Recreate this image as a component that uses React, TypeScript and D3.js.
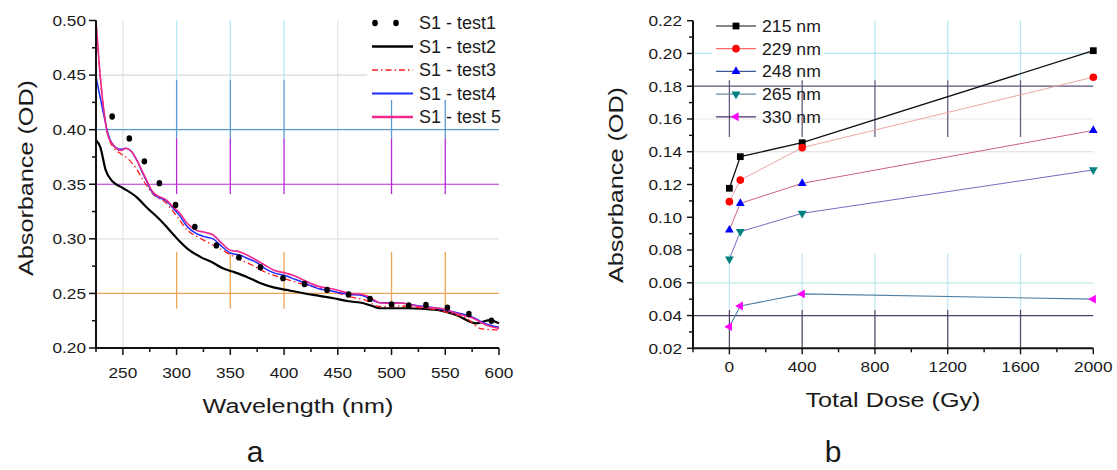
import React from 'react';
import * as d3 from 'd3';

const FONT = "'Liberation Sans', Arial, Helvetica, sans-serif";

// ---- panel a : spectra (wavelength nm, absorbance OD)
const test1 = [
  [240, 0.412], [256, 0.392], [270, 0.371], [284, 0.351], [299, 0.331], [317, 0.311],
  [337, 0.294], [358, 0.283], [378, 0.274], [399, 0.264], [419, 0.2586], [440, 0.2532],
  [460, 0.249], [480, 0.245], [500, 0.240], [516, 0.239], [532, 0.2394], [552, 0.237],
  [572, 0.2312], [593, 0.225],
];
const test2 = [
  [225, 0.3905], [229, 0.384], [234, 0.363], [241, 0.352], [250, 0.3466], [263, 0.338],
  [272, 0.329], [285, 0.317], [297, 0.304], [303, 0.2975], [310, 0.291], [322, 0.2835],
  [334, 0.278], [343, 0.273], [352, 0.27], [365, 0.2653], [377, 0.2598], [390, 0.2555],
  [402, 0.2532], [427, 0.2486], [446, 0.2456], [460, 0.2428], [474, 0.241], [482, 0.2385],
  [489, 0.2364], [514, 0.2364], [542, 0.235], [560, 0.2303], [579, 0.2226], [591, 0.2256],
  [600, 0.2226],
];
const test3 = [
  [225, 0.5], [228, 0.46], [232, 0.42], [236, 0.395], [241, 0.384], [248, 0.378],
  [254, 0.374], [262, 0.365], [270, 0.352], [278, 0.341], [290, 0.333], [300, 0.321],
  [310, 0.308], [322, 0.3005], [337, 0.2928], [356, 0.2822], [370, 0.276], [381, 0.2702],
  [399, 0.2639], [412, 0.26], [427, 0.2562], [446, 0.2516], [461, 0.247], [475, 0.244],
  [489, 0.238], [508, 0.2385], [525, 0.237], [542, 0.235], [558, 0.231], [570, 0.2272],
  [582, 0.218], [590, 0.217], [600, 0.2165],
];
const test4 = [
  [225, 0.4485], [229, 0.429], [233, 0.41], [236, 0.397], [241, 0.386], [248, 0.382],
  [253, 0.383], [258, 0.38], [263, 0.372], [268, 0.361], [272, 0.353], [277, 0.343],
  [283, 0.338], [290, 0.335], [296, 0.329], [303, 0.321], [310, 0.311], [318, 0.305],
  [326, 0.302], [334, 0.3], [342, 0.293], [350, 0.287], [359, 0.285], [366, 0.282],
  [375, 0.278], [382, 0.273], [390, 0.269], [402, 0.266], [410, 0.263], [418, 0.26],
  [425, 0.257], [433, 0.254], [441, 0.253], [449, 0.251], [461, 0.249], [470, 0.2485],
  [476, 0.247], [482, 0.244], [489, 0.2415], [500, 0.2415], [511, 0.241], [523, 0.239],
  [535, 0.2375], [545, 0.236], [560, 0.2325], [576, 0.228], [588, 0.222], [600, 0.219],
];
const test5 = [
  [225, 0.5], [228, 0.46], [232, 0.42], [236, 0.395], [241, 0.386], [248, 0.381],
  [253, 0.383], [258, 0.38], [263, 0.372], [268, 0.362], [272, 0.354], [277, 0.344],
  [283, 0.339], [290, 0.336], [296, 0.33], [303, 0.3234], [310, 0.314], [318, 0.308],
  [326, 0.306], [334, 0.3035], [342, 0.296], [350, 0.2895], [359, 0.288], [366, 0.285],
  [374, 0.2806], [382, 0.276], [390, 0.2715], [402, 0.2685], [410, 0.266], [418, 0.2623],
  [425, 0.259], [433, 0.2562], [441, 0.255], [449, 0.2532], [461, 0.25], [470, 0.2495],
  [476, 0.248], [482, 0.245], [489, 0.2415], [500, 0.241], [511, 0.241], [523, 0.2385],
  [535, 0.237], [545, 0.2364], [560, 0.2318], [576, 0.2272], [588, 0.2211], [600, 0.218],
];
const spectraLabels = ['S1 - test1', 'S1 - test2', 'S1 - test3', 'S1 - test4', 'S1 - test 5'];

// ---- panel b : absorbance vs total dose
const doses = [0, 60, 400, 2000];
const abs215 = [0.1177, 0.137, 0.1455, 0.2017];
const abs229 = [0.1095, 0.1227, 0.1425, 0.1855];
const abs248 = [0.0922, 0.1085, 0.1207, 0.153];
const abs265 = [0.0745, 0.0912, 0.1024, 0.1289];
const abs330 = [0.0332, 0.0458, 0.0532, 0.050];
const doseLabels = ['215 nm', '229 nm', '248 nm', '265 nm', '330 nm'];

function T({ x, y, children, size = 15, anchor = 'middle', sx = 1, rotate = 0, dy = '0', fill = '#1a1a1a' }: any) {
  return (
    <text
      transform={`translate(${x},${y}) rotate(${rotate}) scale(${sx},1)`}
      fontSize={size}
      textAnchor={anchor}
      dy={dy}
      fill={fill}
      fontFamily={FONT}
    >
      {children}
    </text>
  );
}

function PanelA() {
  const x = d3.scaleLinear().domain([225, 600]).range([96, 499]);
  const y = d3.scaleLinear().domain([0.2, 0.5]).range([348, 20.5]);
  const line = d3.line<number[]>().x((d) => x(d[0])).y((d) => y(d[1])).curve(d3.curveMonotoneX);

  // 25 nm minor / 50 nm major, 0.025 minor / 0.05 major
  const xTicks = d3.range(225, 601, 25);
  const yTicks = d3.range(0, 13).map((i) => 0.2 + i * 0.025);

  // odd coloured grid of the original figure
  const hGrid = [
    { v: 0.45, c: '#d9d9d9' },
    { v: 0.40, c: '#5b9bd5' },
    { v: 0.35, c: '#b52ad6' },
    { v: 0.30, c: '#e2e2e2' },
    { v: 0.25, c: '#eea456' },
  ];
  const vBands = [
    { from: 0.5, to: 0.4455, c: '#b7e6f7' },
    { from: 0.4455, to: 0.392, c: '#5b9bd5' },
    { from: 0.392, to: 0.341, c: '#b52ad6' },
    { from: 0.288, to: 0.236, c: '#eea456' },
  ];
  const bandX = [300, 350, 400, 500, 550];

  const series = [
    { d: test2, c: '#000', w: 2.2, dash: undefined },
    { d: test3, c: '#ff1a1a', w: 1.3, dash: '6 3 1.5 3' },
    { d: test4, c: '#1f2bff', w: 1.5, dash: undefined },
    { d: test5, c: '#f0288c', w: 1.6, dash: undefined },
  ];

  return (
    <g>
      {[250, 450].map((v) => (
        <line key={v} x1={x(v)} x2={x(v)} y1={y(0.5)} y2={y(0.2)} stroke="#e4e4e4" strokeWidth={1.3} />
      ))}
      {hGrid.map((g) => (
        <line key={g.v} x1={x(225)} x2={x(600)} y1={y(g.v)} y2={y(g.v)} stroke={g.c} strokeWidth={1.2} />
      ))}
      {bandX.map((v) =>
        vBands.map((b, i) => (
          <line key={v + '-' + i} x1={x(v)} x2={x(v)} y1={y(b.from)} y2={y(b.to)} stroke={b.c} strokeWidth={1.3} />
        ))
      )}
      <rect x={367} y={10} width={135} height={90} fill="#fff" />

      {series.map((s, i) => (
        <path key={i} d={line(s.d) || ''} fill="none" stroke={s.c} strokeWidth={s.w} strokeDasharray={s.dash} />
      ))}
      {test1.map((d, i) => (
        <ellipse key={i} cx={x(d[0])} cy={y(d[1])} rx={2.8} ry={3.2} fill="#000" />
      ))}

      {/* axes */}
      <line x1={x(225)} x2={x(225)} y1={y(0.5)} y2={y(0.2) + 1} stroke="#111" strokeWidth={2} />
      <line x1={x(225) - 1} x2={x(600)} y1={y(0.2)} y2={y(0.2)} stroke="#111" strokeWidth={2} />
      {yTicks.map((v, i) => {
        const major = i % 2 === 0;
        return (
          <g key={i}>
            <line x1={x(225) - (major ? 7 : 4)} x2={x(225)} y1={y(v)} y2={y(v)} stroke="#111" strokeWidth={1.5} />
            {major && (
              <T x={86} y={y(v)} dy="0.36em" anchor="end" sx={1.15}>
                {d3.format('.2f')(v)}
              </T>
            )}
          </g>
        );
      })}
      {xTicks.map((v) => {
        const major = v % 50 === 0;
        return (
          <g key={v}>
            <line x1={x(v)} x2={x(v)} y1={y(0.2)} y2={y(0.2) + (major ? 7 : 4)} stroke="#111" strokeWidth={1.5} />
            {major && (
              <T x={x(v)} y={378} sx={1.15}>
                {v}
              </T>
            )}
          </g>
        );
      })}
      <T x={298} y={413} size={21} sx={1.2}>Wavelength (nm)</T>
      <T x={33} y={178} size={21} sx={1.2} rotate={-90}>Absorbance (OD)</T>
      <T x={255} y={462} size={30}>a</T>

      {/* legend */}
      {spectraLabels.map((lab, i) => {
        const ly = 23 + i * 23.5;
        const s = series[i - 1];
        return (
          <g key={lab}>
            {i === 0 ? (
              <>
                <ellipse cx={375} cy={ly} rx={2.8} ry={3.2} fill="#000" />
                <ellipse cx={396} cy={ly} rx={2.8} ry={3.2} fill="#000" />
              </>
            ) : (
              <line x1={372} x2={413} y1={ly} y2={ly} stroke={s.c} strokeWidth={i === 4 ? 2.4 : s.w + 0.3} strokeDasharray={s.dash} />
            )}
            <T x={419} y={ly} dy="0.36em" anchor="start" size={18}>
              {lab}
            </T>
          </g>
        );
      })}
    </g>
  );
}

function PanelB() {
  const x = d3.scaleLinear().domain([-200, 2000]).range([693, 1093.3]);
  const y = d3.scaleLinear().domain([0.02, 0.22]).range([348.3, 20.7]);
  const xTicks = d3.range(-200, 2001, 200);
  const yTicks = d3.range(0, 21).map((i) => 0.02 + i * 0.01);

  const hGrid = [
    { v: 0.2, c: '#b3e3f0' },
    { v: 0.16, c: '#e8e8e8' },
    { v: 0.14, c: '#dcdcdc' },
    { v: 0.06, c: '#c4eaea' },
  ];
  const hGridTop = [
    { v: 0.18, c: '#5d507c' },
    { v: 0.04, c: '#4a4060' },
  ];
  const vBands = [
    { from: 0.22, to: 0.1837, c: '#b6e6f4' },
    { from: 0.1837, to: 0.149, c: '#6a5a80' },
    { from: 0.078, to: 0.0434, c: '#c2e9ee' },
    { from: 0.0434, to: 0.02, c: '#5a4a6a' },
  ];
  const bandX = [0, 400, 800, 1200, 1600];

  const series = [
    { v: abs215, fill: '#000', line: '#111', lw: 1.3, leg: '#111', sym: d3.symbolSquare, size: 46, rot: 0 },
    { v: abs229, fill: '#ff0000', line: '#e9a7a0', lw: 1, leg: '#ff6a6a', sym: d3.symbolCircle, size: 46, rot: 0 },
    { v: abs248, fill: '#0000ff', line: '#c8647a', lw: 1, leg: '#3a5a9a', sym: d3.symbolTriangle, size: 34, rot: 0 },
    { v: abs265, fill: '#008080', line: '#7a6ac0', lw: 1, leg: '#6a8aa0', sym: d3.symbolTriangle, size: 34, rot: 180 },
    { v: abs330, fill: '#ff00ff', line: '#4f7fa5', lw: 1.1, leg: '#4a3070', sym: d3.symbolTriangle, size: 34, rot: -90 },
  ];
  const line = d3.line<number>().x((_, i) => x(doses[i])).y((d) => y(d));

  return (
    <g>
      {hGrid.map((g) => (
        <line key={g.v} x1={x(-200)} x2={x(2000)} y1={y(g.v)} y2={y(g.v)} stroke={g.c} strokeWidth={1.2} />
      ))}
      {bandX.map((v) =>
        vBands.map((b, i) => (
          <line key={v + '-' + i} x1={x(v)} x2={x(v)} y1={y(b.from)} y2={y(b.to)} stroke={b.c} strokeWidth={1.3} />
        ))
      )}
      <rect x={712} y={12} width={112} height={68} fill="#fff" />
      {hGridTop.map((g) => (
        <line key={g.v} x1={x(-200)} x2={x(2000)} y1={y(g.v)} y2={y(g.v)} stroke={g.c} strokeWidth={1.2} />
      ))}

      {series.map((s, i) => (
        <path key={i} d={line(s.v) || ''} fill="none" stroke={s.line} strokeWidth={s.lw} />
      ))}
      {series.map((s, i) =>
        s.v.map((v, j) => (
          <path
            key={i + '-' + j}
            d={d3.symbol().type(s.sym).size(s.size)() || ''}
            transform={`translate(${x(doses[j])},${y(v)}) rotate(${s.rot})`}
            fill={s.fill}
          />
        ))
      )}

      {/* axes */}
      <line x1={x(-200)} x2={x(-200)} y1={y(0.22)} y2={y(0.02) + 1} stroke="#111" strokeWidth={2} />
      <line x1={x(-200) - 1} x2={x(2000)} y1={y(0.02)} y2={y(0.02)} stroke="#111" strokeWidth={2} />
      {yTicks.map((v, i) => {
        const major = i % 2 === 0;
        return (
          <g key={i}>
            <line x1={x(-200) - (major ? 6 : 4)} x2={x(-200)} y1={y(v)} y2={y(v)} stroke="#111" strokeWidth={1.4} />
            {major && (
              <T x={682} y={y(v)} dy="0.36em" anchor="end" sx={1.15}>
                {d3.format('.2f')(v)}
              </T>
            )}
          </g>
        );
      })}
      {xTicks.map((v) => {
        const major = v % 400 === 0;
        return (
          <g key={v}>
            <line x1={x(v)} x2={x(v)} y1={y(0.02)} y2={y(0.02) + (major ? 6 : 4)} stroke="#111" strokeWidth={1.4} />
            {major && (
              <T x={x(v)} y={372} sx={1.15}>
                {v}
              </T>
            )}
          </g>
        );
      })}
      <T x={893} y={407} size={21} sx={1.2}>Total Dose (Gy)</T>
      <T x={623} y={185} size={21} sx={1.2} rotate={-90}>Absorbance (OD)</T>
      <T x={833} y={462} size={30}>b</T>

      {/* legend */}
      {doseLabels.map((lab, i) => {
        const ly = 26 + i * 22.7;
        const s = series[i];
        return (
          <g key={lab}>
            <line x1={716} x2={756} y1={ly} y2={ly} stroke={s.leg} strokeWidth={1.2} />
            <path d={d3.symbol().type(s.sym).size(s.size)() || ''} transform={`translate(736,${ly}) rotate(${s.rot})`} fill={s.fill} />
            <T x={762} y={ly} dy="0.36em" anchor="start" size={16.5} sx={1.07}>
              {lab}
            </T>
          </g>
        );
      })}
    </g>
  );
}

export default function App() {
  return (
    <div style={{ position: 'absolute', left: 0, top: 0 }}>
      <svg width={1117} height={470} style={{ display: 'block', background: '#fff' }}>
        <PanelA />
        <PanelB />
      </svg>
    </div>
  );
}
